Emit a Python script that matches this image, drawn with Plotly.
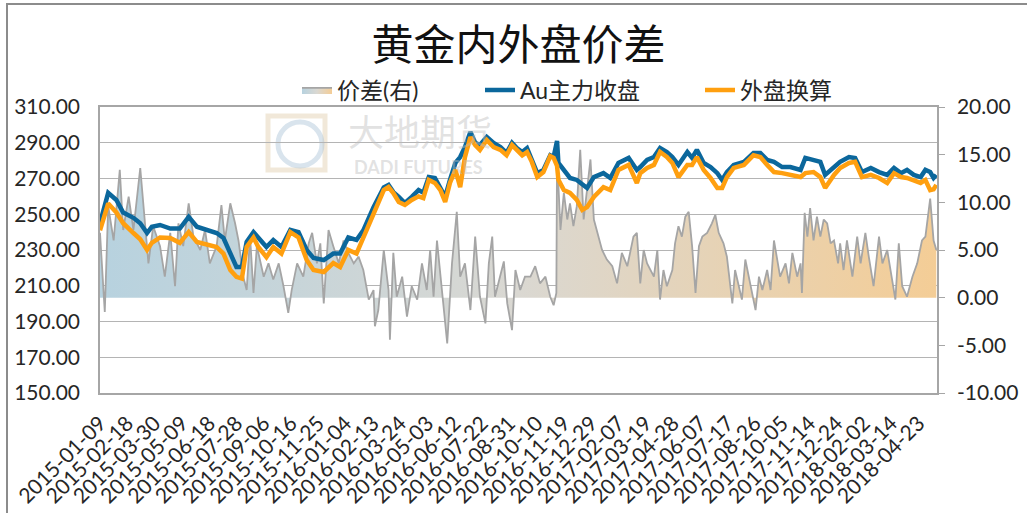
import pandas as pd
import plotly.graph_objects as go

# ---------------- data ----------------
price_dates = [
    "2015-01-09", "2015-01-21", "2015-02-02", "2015-02-12", "2015-02-27", "2015-03-09",
    "2015-03-19", "2015-03-26", "2015-04-07", "2015-04-22", "2015-05-06", "2015-05-19",
    "2015-05-31", "2015-06-14", "2015-06-29", "2015-07-09", "2015-07-19", "2015-07-28",
    "2015-08-05", "2015-08-12", "2015-08-22", "2015-08-29", "2015-09-10", "2015-09-20",
    "2015-10-02", "2015-10-15", "2015-10-27", "2015-11-08", "2015-11-18", "2015-12-03",
    "2015-12-17", "2015-12-27", "2016-01-08", "2016-01-20", "2016-01-30", "2016-02-14",
    "2016-02-29", "2016-03-07", "2016-03-14", "2016-03-22", "2016-03-31", "2016-04-10",
    "2016-04-20", "2016-04-27", "2016-05-05", "2016-05-14", "2016-05-22", "2016-05-29",
    "2016-06-05", "2016-06-13", "2016-06-20", "2016-06-27", "2016-07-05", "2016-07-12",
    "2016-07-19", "2016-07-29", "2016-08-08", "2016-08-18", "2016-08-27", "2016-09-04",
    "2016-09-11", "2016-09-19", "2016-09-26", "2016-10-03", "2016-10-11", "2016-10-20",
    "2016-10-30", "2016-11-04", "2016-11-09", "2016-11-11", "2016-11-19", "2016-11-28",
    "2016-12-08", "2016-12-16", "2016-12-23", "2017-01-02", "2017-01-16", "2017-01-26",
    "2017-02-07", "2017-02-22", "2017-03-06", "2017-03-11", "2017-03-21", "2017-03-31",
    "2017-04-09", "2017-04-19", "2017-04-27", "2017-05-06", "2017-05-19", "2017-05-26",
    "2017-06-02", "2017-06-12", "2017-06-22", "2017-07-02", "2017-07-09", "2017-07-16",
    "2017-07-26", "2017-08-10", "2017-08-24", "2017-09-03", "2017-09-13", "2017-09-23",
    "2017-10-05", "2017-10-17", "2017-11-01", "2017-11-08", "2017-11-20", "2017-11-30",
    "2017-12-07", "2017-12-20", "2017-12-29", "2018-01-11", "2018-01-20", "2018-01-30",
    "2018-02-12", "2018-02-24", "2018-03-08", "2018-03-18", "2018-03-28", "2018-04-06",
    "2018-04-16", "2018-04-26", "2018-05-03", "2018-05-10", "2018-05-15", "2018-05-19",
]
au_close = [
    245, 262, 258, 251, 248, 245,
    239.5, 243, 244, 242, 242, 248.5,
    243, 241, 239.5, 236.7, 228, 220.5,
    220.5, 234.5, 240, 236.7, 231.7, 235.6,
    231.7, 241.2, 240, 230, 225.5, 224.4,
    228, 228, 237, 235.6, 241, 254,
    265, 266.4, 262.4, 259.7, 256.3, 259.7,
    263.5, 262, 270.8, 270.3, 265.2, 259.7,
    269.2, 278.7, 282, 287.6, 296, 290,
    288.7, 293.2, 289.9, 287.6, 284.3, 289.9,
    287, 284.8, 287, 280.4, 273, 274.8,
    283, 282, 291, 278.7, 274.8, 270.3,
    269.2, 267, 264.7, 270.8, 273, 270.3,
    278.7, 281.5, 274.8, 276.4, 280.4, 282,
    287, 284.8, 282, 277.6, 284.8, 281.5,
    286, 278.7, 276.4, 273, 269.2, 273.6,
    277.6, 279.3, 284.3, 284.3, 280.4, 279.3,
    276.4, 276.4, 274.8, 281.5, 280.4, 279.3,
    272, 275.9, 279.3, 282, 281.5, 273.6,
    275.9, 273.6, 272, 275.9, 273, 274.8,
    272, 270.8, 274.8, 273.6, 270.3, 272,
]
foreign_conv = [
    241, 256, 251, 245, 239.5, 236,
    230, 234, 237, 236.7, 234, 240,
    234.5, 233, 231.7, 228, 218.8, 215,
    214, 231.7, 237, 231.7, 226, 231.7,
    228, 240, 237, 224.4, 218.8, 217.7,
    222.7, 220.5, 230, 228, 237, 250.7,
    263.5, 265.2, 261.9, 256.9, 255.2, 258,
    260, 259, 269.2, 267.5, 263.5, 256.9,
    267.5, 274.8, 265.2, 282, 293.2, 288.7,
    286, 291.5, 287.6, 286, 283, 288.7,
    286, 283, 284.8, 279.3, 270.8, 273.6,
    282.5, 281.5, 277, 269.2, 263.5, 261.9,
    258, 252.4, 254, 259.7, 265.2, 263.5,
    274.8, 277.6, 267.5, 273, 275.9, 277.6,
    284.8, 282, 278.7, 270.8, 277.6, 277.6,
    282, 274.8, 270.3, 264.7, 264.7, 270.8,
    275.9, 277.6, 283, 282, 277.6, 273.6,
    273, 272, 270.8, 273, 273.6, 270.8,
    264.7, 272, 275.9, 278.7, 279.3, 270.8,
    272, 270.3, 267.5, 273, 270.8, 270.3,
    269.2, 267.5, 269.2, 263.5, 264, 266.4,
]

spread_dates = [
    "2015-01-09", "2015-01-16", "2015-01-21", "2015-01-29", "2015-02-07", "2015-02-12",
    "2015-02-20", "2015-02-27", "2015-03-09", "2015-03-14", "2015-03-21", "2015-03-28",
    "2015-04-07", "2015-04-14", "2015-04-22", "2015-04-29", "2015-05-04", "2015-05-11",
    "2015-05-19", "2015-05-26", "2015-06-05", "2015-06-12", "2015-06-19", "2015-06-29",
    "2015-07-06", "2015-07-11", "2015-07-19", "2015-07-26", "2015-07-31", "2015-08-07",
    "2015-08-12", "2015-08-17", "2015-08-22", "2015-08-27", "2015-09-06", "2015-09-13",
    "2015-09-20", "2015-09-28", "2015-10-05", "2015-10-12", "2015-10-17", "2015-10-25",
    "2015-11-03", "2015-11-11", "2015-11-16", "2015-11-23", "2015-11-28", "2015-12-03",
    "2015-12-10", "2015-12-17", "2015-12-25", "2016-01-01", "2016-01-08", "2016-01-16",
    "2016-01-23", "2016-01-30", "2016-02-07", "2016-02-14", "2016-02-16", "2016-02-21",
    "2016-02-29", "2016-03-07", "2016-03-09", "2016-03-14", "2016-03-19", "2016-03-27",
    "2016-04-03", "2016-04-10", "2016-04-18", "2016-04-25", "2016-05-02", "2016-05-07",
    "2016-05-12", "2016-05-17", "2016-05-24", "2016-06-01", "2016-06-08", "2016-06-15",
    "2016-06-20", "2016-06-27", "2016-07-05", "2016-07-12", "2016-07-19", "2016-07-27",
    "2016-08-01", "2016-08-06", "2016-08-10", "2016-08-18", "2016-08-23", "2016-08-28",
    "2016-09-04", "2016-09-09", "2016-09-16", "2016-09-23", "2016-10-01", "2016-10-08",
    "2016-10-15", "2016-10-23", "2016-10-30", "2016-11-04", "2016-11-08", "2016-11-09",
    "2016-11-14", "2016-11-19", "2016-11-24", "2016-11-28", "2016-12-03", "2016-12-08",
    "2016-12-13", "2016-12-18", "2016-12-28", "2017-01-02", "2017-01-07", "2017-01-14",
    "2017-01-21", "2017-01-29", "2017-02-05", "2017-02-12", "2017-02-20", "2017-03-01",
    "2017-03-06", "2017-03-11", "2017-03-16", "2017-03-21", "2017-03-31", "2017-04-05",
    "2017-04-09", "2017-04-14", "2017-04-19", "2017-04-27", "2017-05-01", "2017-05-06",
    "2017-05-11", "2017-05-16", "2017-05-21", "2017-05-26", "2017-05-31", "2017-06-05",
    "2017-06-10", "2017-06-17", "2017-06-24", "2017-06-29", "2017-07-04", "2017-07-11",
    "2017-07-16", "2017-07-24", "2017-07-28", "2017-08-02", "2017-08-07", "2017-08-12",
    "2017-08-17", "2017-08-22", "2017-08-27", "2017-09-01", "2017-09-06", "2017-09-13",
    "2017-09-18", "2017-09-23", "2017-09-28", "2017-10-02", "2017-10-10", "2017-10-15",
    "2017-10-20", "2017-10-27", "2017-11-01", "2017-11-03", "2017-11-07", "2017-11-11",
    "2017-11-15", "2017-11-20", "2017-11-25", "2017-11-30", "2017-12-05", "2017-12-10",
    "2017-12-15", "2017-12-20", "2017-12-26", "2017-12-29", "2018-01-03", "2018-01-08",
    "2018-01-16", "2018-01-23", "2018-01-28", "2018-02-04", "2018-02-09", "2018-02-16",
    "2018-02-24", "2018-03-01", "2018-03-08", "2018-03-15", "2018-03-20", "2018-03-25",
    "2018-03-30", "2018-04-06", "2018-04-14", "2018-04-21", "2018-04-28", "2018-05-03",
    "2018-05-10", "2018-05-15", "2018-05-19",
]
spread = [
    6.8, -1.5, 9.6, 6, 13.4, 7.1,
    10.6, 7.1, 13.6, 9.2, 3.6, 7.5,
    5.4, 2.2, 6.8, 1.2, 7.8, 5.4,
    9.9, 6.4, 5, 7.1, 3.6, 5.4,
    9.7, 6, 9.9, 7.8, 6, 2.2,
    0.8, 6.4, 0.5, 5.4, 2.2, 3.6,
    1.9, 3.6, 1.2, -1.6, 0.8, 3.6,
    2.2, 5.7, 6.8, 3.6, 5.7, -0.6,
    7.1, 5.4, 3.6, 6, 4.7, 3.6,
    4.3, 2.9, -0.2, 0.8, -3, -1.3,
    5, 0.8, -4.4, 4.7, 0.1, 2.2,
    -2, 1.2, -0.2, 3.6, 0.8, 5,
    0.1, 6, 0.8, -4.8, 3.6, 9,
    2.2, 3.6, -1.3, 6.4, 0.1, -2.7,
    3.6, 6.4, 0.1, 2.2, 3.8, -0.6,
    -3.4, 2.9, 0.8, 2.2, 2.2, 3.3,
    1.5, 2.2, 0.1, -0.8, 0.5, 15,
    7.1, 11, 8.2, 9.9, 7.5, 9.6,
    15.5, 8.2, 14.5, 8.2, 6.8, 5,
    4, 3.3, 1.5, 4.7, 3.3, 6.4,
    6.8, 1.5, 5, 3.6, 2.2, 5,
    -0.2, 2.9, 1.2, 2.9, 5.7, 7.5,
    6.4, 8.5, 9, 5.4, 0.5, 5.4,
    6.4, 6.8, 7.8, 8.7, 6.8, 5.7,
    4.3, -0.6, 2.9, 1.5, -0.2, 4,
    2.2, 0.8, -1.3, 2.2, 0.8, 2.9,
    0.8, 6, 4, 2.2, 3.6, 1.5,
    4.7, 2.2, 3.6, 0.5, 8.9, 6.4,
    9.4, 6, 8.5, 6.4, 8.2, 7.8,
    5.7, 6, 3.6, 5.7, 2.9, 6,
    2.2, 6.4, 3.6, 6.8, 4.3, 1.2,
    6.4, 3.6, 5, 2.2, -0.2, 5.7,
    1.2, 0.1, 2.2, 3.6, 6, 6.4,
    10.4, 6, 5,
]

left_ticks = [150, 170, 190, 210, 230, 250, 270, 290, 310]
left_labels = ["150.00", "170.00", "190.00", "210.00", "230.00", "250.00", "270.00",
               "290.00", "310.00"]
right_ticks = [-10, -5, 0, 5, 10, 15, 20]
right_labels = ["-10.00", "-5.00", "0.00", "5.00", "10.00", "15.00", "20.00"]
date_ticks = pd.date_range("2015-01-09", "2018-04-23", freq="40D")

title_text = "黄金内外盘价差"
name_spread = "价差(右)"
name_au = "Au主力收盘"
name_ext = "外盘换算"

# ---------------- figure ----------------
FONT = "Lato, 'Noto Sans CJK SC', sans-serif"
CJK = "'Noto Sans CJK SC', sans-serif"
GRID = "#B4B4B4"
AXIS = "#A6A6A6"


def px_x(p):
    return (p - 100) / 837


def px_y(p):
    return (393 - p) / 286


fig = go.Figure()
fig.add_trace(go.Scatter(
    x=spread_dates, y=spread, name=name_spread, mode="lines",
    line=dict(color="#A5A5A5", width=1.8),
    fill="tozeroy",
    fillgradient=dict(type="horizontal",
                      colorscale=[[0, "#B7D2DF"], [0.5, "#DAD8D2"], [1, "#F4CD96"]]),
    yaxis="y", legend="legend",
))
fig.add_trace(go.Scatter(
    x=price_dates, y=au_close, name=name_au, mode="lines",
    line=dict(color="#0B679C", width=4.5), yaxis="y2", legend="legend2",
))
fig.add_trace(go.Scatter(
    x=price_dates, y=foreign_conv, name=name_ext, mode="lines",
    line=dict(color="#FF9F0F", width=4.5), yaxis="y2", legend="legend3",
))

leg_common = dict(orientation="h", xanchor="left", yanchor="middle", y=px_y(90),
                  font=dict(family=FONT, size=23, color="#262626"),
                  bgcolor="rgba(0,0,0,0)")

fig.update_layout(
    width=1027, height=513,
    margin=dict(l=100, r=90, t=107, b=120, autoexpand=False),
    paper_bgcolor="white", plot_bgcolor="white",
    font=dict(family=FONT, size=21, color="#262626"),
    title=dict(text=title_text, x=0.5, xref="paper", xanchor="center",
               y=1 - 45 / 513, yref="container", yanchor="middle",
               font=dict(family=CJK, size=42, color="#111111")),
    showlegend=True,
    legend=dict(x=px_x(297), **leg_common),
    legend2=dict(x=px_x(480), **leg_common),
    legend3=dict(x=px_x(700), **leg_common),
    xaxis=dict(type="date", range=["2015-01-09", "2018-05-20"],
               tickvals=list(date_ticks), tickformat="%Y-%m-%d", tickangle=-45,
               tickfont=dict(size=21), showgrid=False, zeroline=False,
               showline=True, linecolor=AXIS, linewidth=1.5, mirror=True,
               ticks="", ticklabelstandoff=8, automargin=False),
    yaxis=dict(side="right", range=[-10, 20], tickvals=right_ticks, ticktext=right_labels,
               showgrid=False, zeroline=False, showline=True, linecolor=AXIS, linewidth=1.5,
               ticks="outside", ticklen=6, tickcolor=AXIS, ticklabelstandoff=8,
               tickfont=dict(size=21), automargin=False),
    yaxis2=dict(side="left", overlaying="y", range=[150, 310], tickvals=left_ticks,
                ticktext=left_labels, showgrid=True, gridcolor=GRID, gridwidth=1.3,
                zeroline=False, showline=True, linecolor=AXIS, linewidth=1.5,
                ticks="", ticklabelstandoff=14, tickfont=dict(size=21), automargin=False),
)

# outer chart frame (partially cropped in the reference)
fig.add_shape(type="rect", xref="paper", yref="paper",
              x0=px_x(7), x1=1.2, y0=-0.6, y1=px_y(4),
              line=dict(color="#8C8C8C", width=2), fillcolor="rgba(0,0,0,0)", layer="below")

# faint watermark
fig.add_shape(type="rect", xref="paper", yref="paper",
              x0=px_x(268), x1=px_x(325), y0=px_y(170), y1=px_y(116),
              line=dict(color="rgba(225,205,170,0.45)", width=5), fillcolor="rgba(0,0,0,0)",
              layer="below")
fig.add_shape(type="circle", xref="paper", yref="paper",
              x0=px_x(278), x1=px_x(322), y0=px_y(166), y1=px_y(122),
              line=dict(color="rgba(170,195,215,0.45)", width=5), fillcolor="rgba(0,0,0,0)",
              layer="below")
fig.add_annotation(text="大地期货", xref="paper", yref="paper",
                   x=px_x(420), y=px_y(130), xanchor="center", yanchor="middle",
                   showarrow=False, font=dict(family=CJK, size=36,
                                              color="rgba(190,190,190,0.45)"))
fig.add_annotation(text="DADI FUTURES", xref="paper", yref="paper",
                   x=px_x(418), y=px_y(167), xanchor="center", yanchor="middle",
                   showarrow=False, font=dict(family="Lato", size=18, weight="bold",
                                              color="rgba(190,190,190,0.45)"))

fig.write_html("out.html", config={"displayModeBar": False},
               post_script="document.body.style.margin='0px';")
